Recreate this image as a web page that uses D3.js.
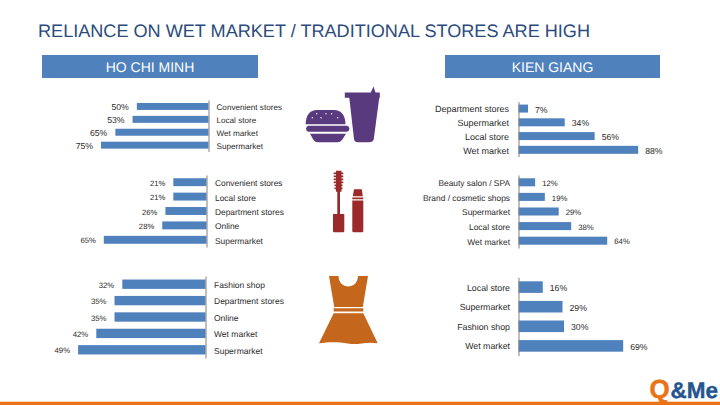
<!DOCTYPE html>
<html>
<head>
<meta charset="utf-8">
<script src="https://cdn.jsdelivr.net/npm/d3@7"></script>
<style>
  html, body { margin: 0; padding: 0; background: #fff; }
  svg { display: block; }
  text { font-family: "Liberation Sans", Arial, sans-serif; text-rendering: geometricPrecision; }
</style>
</head>
<body>
<div id="chart"></div>
<script>
const titleText = 'RELIANCE ON WET MARKET / TRADITIONAL STORES ARE HIGH';
const regionNames = ['HO CHI MINH', 'KIEN GIANG'];

// values, top to bottom in each chart
const hcmFoodCats = ['Convenient stores', 'Local store', 'Wet market', 'Supermarket'];
const hcmFoodVals = [50, 53, 65, 75];
const hcmBeautyCats = ['Convenient stores', 'Local store', 'Department stores', 'Online', 'Supermarket'];
const hcmBeautyVals = [21, 21, 26, 28, 65];
const hcmFashionCats = ['Fashion shop', 'Department stores', 'Online', 'Wet market', 'Supermarket'];
const hcmFashionVals = [32, 35, 35, 42, 49];

const kgFoodCats = ['Department stores', 'Supermarket', 'Local store', 'Wet market'];
const kgFoodVals = [7, 34, 56, 88];
const kgBeautyCats = ['Beauty salon / SPA', 'Brand / cosmetic shops', 'Supermarket', 'Local store', 'Wet market'];
const kgBeautyVals = [12, 19, 29, 38, 64];
const kgFashionCats = ['Local store', 'Supermarket', 'Fashion shop', 'Wet market'];
const kgFashionVals = [16, 29, 30, 69];

const blue = '#4f81bd';
const width = 720, height = 405;

const svg = d3.select('#chart').append('svg')
    .attr('width', width)
    .attr('height', height);

// title
svg.append('text')
    .attr('x', 38).attr('y', 36.5)
    .attr('font-size', 18.1)
    .attr('fill', '#2a4b7c')
    .text(titleText);

// region headers
[[42, 216], [445, 215]].forEach(([x, w], i) => {
    svg.append('rect')
        .attr('x', x).attr('y', 55)
        .attr('width', w).attr('height', 23)
        .attr('fill', blue);
    svg.append('text')
        .attr('x', x + w / 2).attr('y', 71.5)
        .attr('text-anchor', 'middle')
        .attr('font-size', 14)
        .attr('fill', '#fff')
        .text(regionNames[i]);
});

// one chart panel. side = 'left' grows leftwards from the axis
function drawPanel(cats, vals, o) {
    const x = d3.scaleLinear()
        .domain([0, 100])
        .range(o.side === 'left' ? [o.axisX, o.axisX - o.perPct * 100] : [o.axisX, o.axisX + o.perPct * 100]);
    const y = d3.scaleBand()
        .domain(cats)
        .range([o.top, o.bottom])
        .paddingInner(o.pad)
        .paddingOuter(o.pad / 2);

    const g = svg.append('g');

    g.selectAll('rect')
        .data(vals)
        .join('rect')
        .attr('x', d => o.side === 'left' ? x(d) : x(0))
        .attr('y', (d, i) => y(cats[i]))
        .attr('width', d => Math.abs(x(d) - x(0)))
        .attr('height', y.bandwidth())
        .attr('fill', blue);

    g.selectAll('text.val')
        .data(vals)
        .join('text')
        .attr('class', 'val')
        .attr('x', d => o.side === 'left' ? x(d) - 8 : x(d) + 7)
        .attr('y', (d, i) => y(cats[i]) + y.bandwidth() / 2 + o.valSize * 0.36 + 0.8)
        .attr('text-anchor', o.side === 'left' ? 'end' : 'start')
        .attr('font-size', o.valSize)
        .attr('fill', '#2b2b2b')
        .text(d => d + '%');

    const axis = (o.side === 'left' ? d3.axisRight(y) : d3.axisLeft(y))
        .tickSize(0)
        .tickPadding(o.labelGap);
    const ax = g.append('g')
        .attr('transform', `translate(${o.axisX},0)`)
        .call(axis);
    ax.select('.domain').attr('stroke', '#808080');
    ax.selectAll('text')
        .attr('font-size', o.labelSize)
        .attr('font-family', '"Liberation Sans", Arial, sans-serif')
        .attr('transform', `translate(0,${o.labelDy})`)
        .attr('fill', '#2b2b2b');
}

drawPanel(hcmFoodCats, hcmFoodVals, { side: 'left', axisX: 208.5, perPct: 1.433, top: 100, bottom: 151.6, pad: 0.46, valSize: 8.7, labelSize: 8.15, labelGap: 8, labelDy: 1.2 });
drawPanel(hcmBeautyCats, hcmBeautyVals, { side: 'left', axisX: 206.5, perPct: 1.58, top: 175, bottom: 247, pad: 0.45, valSize: 7.7, labelSize: 8.4, labelGap: 8.5, labelDy: 1.2 });
drawPanel(hcmFashionCats, hcmFashionVals, { side: 'left', axisX: 205.5, perPct: 2.6, top: 276, bottom: 358, pad: 0.43, valSize: 7.8, labelSize: 8.5, labelGap: 8.5, labelDy: 1 });
drawPanel(kgFoodCats, kgFoodVals, { side: 'right', axisX: 518.5, perPct: 1.36, top: 101.7, bottom: 156.7, pad: 0.42, valSize: 8.7, labelSize: 9, labelGap: 9.5, labelDy: 1 });
drawPanel(kgBeautyCats, kgBeautyVals, { side: 'right', axisX: 518.5, perPct: 1.386, top: 175, bottom: 248, pad: 0.45, valSize: 7.8, labelSize: 8.4, labelGap: 8.5, labelDy: 1.2 });
drawPanel(kgFashionCats, kgFashionVals, { side: 'right', axisX: 518.5, perPct: 1.517, top: 277.3, bottom: 355.7, pad: 0.41, valSize: 8.7, labelSize: 8.8, labelGap: 8.5, labelDy: 0.6 });

// icons
const purple = '#5a3a7e', red = '#9b2a2a', orange = '#c4661c';
const icons = svg.append('g');

// burger and cup
icons.append('path').attr('fill', purple).attr('d',
    'M305.7,124.3 C305.7,115 310,110 317,110 L334,110 C341,110 345.5,115 345.5,124.3 Z' +
    'M308.5,125.8 L347,125.8 A3,3 0 0 1 347,131.7 L308.5,131.7 A3,3 0 0 1 308.5,125.8 Z' +
    'M310,133.7 L346,133.7 L342,140 Q340.5,142.3 337,142.3 L318,142.3 Q315,142.3 313.5,140 Z' +
    'M344.8,92.5 L370.8,92.5 L373.5,86.5 L375.5,92.5 L379.8,92.5 L379.8,98 L379.2,98 L373.8,139 Q373,142.3 369,142.3 L358,142.3 Q354.5,142.3 354,139 L349.3,97.8 L344.8,97.8 Z');
[[312.3, 117.7], [316.7, 113.7], [321, 117.7], [326, 113.7], [331.7, 113.7], [337.7, 117.7]].forEach(p => {
    icons.append('circle').attr('cx', p[0]).attr('cy', p[1]).attr('r', 0.7).attr('fill', '#fff');
});

// mascara and lipstick
icons.append('path').attr('fill', red).attr('d',
    'M337.3,214 L337.3,191.7 L336,191.7 L336,170.7 L341.5,170.7 L341.5,191.7 L340,191.7 L340,214 Z' +
    'M333,214 L344.3,214 L344.3,231 Q344.3,232.3 343,232.3 L334.3,232.3 Q333,232.3 333,231 Z' +
    'M352.3,200.5 L363.3,200.5 L363.3,231 Q363.3,232.3 362,232.3 L353.6,232.3 Q352.3,232.3 352.3,231 Z' +
    'M352.3,197.6 L363.3,197.6 L363.3,199.2 L352.3,199.2 Z' +
    'M354,189.3 L361.8,189.3 L362.8,196.2 L352.8,196.2 Z');
[172.5, 175.5, 178.5, 181.5, 184.5, 187.5].forEach((ry, i) => {
    icons.append('rect')
        .attr('x', i < 4 ? 333.7 : 334.5).attr('y', ry)
        .attr('width', i < 4 ? 9.6 : 8).attr('height', 1.7)
        .attr('fill', red);
});

// dress
icons.append('path').attr('fill', orange).attr('d',
    'M329,276 L338.5,276 C339,290 357.5,290 358,276 L368,276 L362.8,307 L334.2,307 Z' +
    'M333.7,308.3 L363.3,308.3 L363.3,311.6 L333.7,311.6 Z' +
    'M333.7,313.3 L363.3,313.3 L377.7,343.3 C366,341 358,345.5 348,343.5 C339,342 330,341.5 319,343.3 Z');

// bottom rule and logo
svg.append('rect')
    .attr('x', 0).attr('y', 401.7)
    .attr('width', width).attr('height', 3.3)
    .attr('fill', '#ea7317');
svg.append('text')
    .attr('x', 649.5).attr('y', 397.5)
    .attr('font-size', 26)
    .attr('font-weight', 'bold')
    .attr('fill', '#ea7317')
    .attr('stroke', '#ea7317')
    .attr('stroke-width', 0.5)
    .text('Q');
svg.append('text')
    .attr('x', 670.5).attr('y', 397.5)
    .attr('font-size', 22.5)
    .attr('font-weight', 'bold')
    .attr('fill', '#24558f')
    .attr('stroke', '#24558f')
    .attr('stroke-width', 0.4)
    .text('&Me');
</script>
</body>
</html>
